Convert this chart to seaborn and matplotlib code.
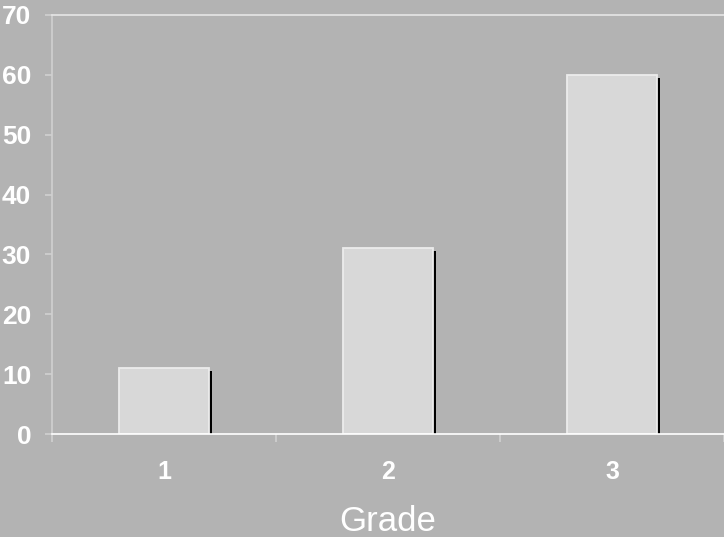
import matplotlib
matplotlib.use('Agg')
import matplotlib.pyplot as plt
import matplotlib.transforms as mtransforms
import seaborn as sns
import pandas as pd

grades = ['1', '2', '3']
counts = [11, 31, 60]
y_ticks = [0, 10, 20, 30, 40, 50, 60, 70]
x_title = 'Grade'

sns.set_style('white')
plt.rcParams['font.family'] = ['Liberation Sans', 'DejaVu Sans']

bg = '#b3b3b3'
fig = plt.figure(figsize=(7.24, 5.37), dpi=100, facecolor=bg)
ax = fig.add_axes([52 / 724, 103 / 537, 672 / 724, 419 / 537])
ax.set_facecolor(bg)

df = pd.DataFrame({'Grade': grades, 'Count': counts})

# shadow bars
sns.barplot(data=df, x='Grade', y='Count', color='black', width=0.4,
            saturation=1, linewidth=0, ax=ax, zorder=1)
offset = mtransforms.ScaledTranslation(3.5 / 100, -3 / 100, fig.dpi_scale_trans)
for p in ax.patches:
    p.set_transform(p.get_data_transform() + offset)

# main bars
sns.barplot(data=df, x='Grade', y='Count', color='#d8d8d8', width=0.4,
            saturation=1, edgecolor='#ececec', linewidth=1.3, ax=ax, zorder=2)

ax.set_xlim(-0.5, len(grades) - 0.5)
ax.set_ylim(y_ticks[0], y_ticks[-1])
ax.set_yticks(y_ticks)
ax.set_xticks(range(len(grades)))
ax.set_xticklabels(grades)
ax.set_xticks([i - 0.5 for i in range(len(grades) + 1)], minor=True)

ax.spines['top'].set_color('#e6e6e6')
ax.spines['left'].set_color('#d0d0d0')
ax.spines['bottom'].set_color('white')
ax.spines['right'].set_visible(False)
for s in ax.spines.values():
    s.set_linewidth(1.2)
    s.set_zorder(3)

ax.tick_params(axis='y', direction='out', length=5, width=1.2, color='#d0d0d0',
               labelcolor='white', labelsize=19, pad=10, left=True)
ax.tick_params(axis='x', which='major', length=0, labelcolor='white',
               labelsize=18, pad=19, bottom=True)
ax.tick_params(axis='x', which='minor', direction='out', length=6, width=1.2,
               color='#d0d0d0', bottom=True)
for lab in ax.get_xticklabels() + ax.get_yticklabels():
    lab.set_fontweight('bold')

ax.set_ylabel('')
ax.set_xlabel(x_title, color='white', fontsize=25, labelpad=15)
ax.grid(False)

fig.savefig('out.png', dpi=100, facecolor=bg)
